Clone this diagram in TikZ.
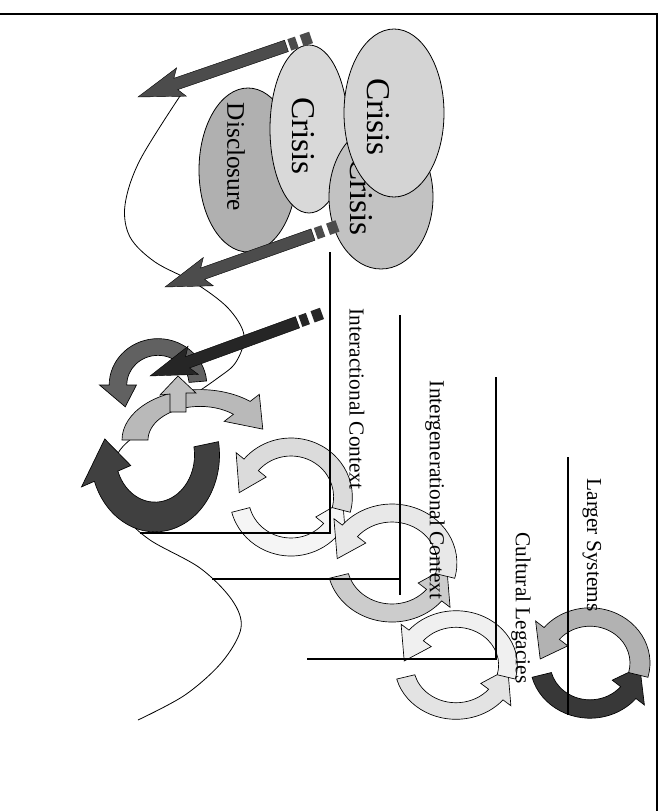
\documentclass[tikz,border=0pt]{standalone}
\usepackage{fontspec}
\setmainfont{Liberation Serif}
\usepackage{tikz}
\usetikzlibrary{shapes.geometric}
\tikzset{
  frame/.style    = {line width=1pt},
  pathline/.style = {line width=0.6pt},
  ctxline/.style  = {line width=0.8pt},
  stage/.style args = {#1/#2}{ellipse,draw,line width=0.6pt,inner sep=0pt,
                     minimum width=#1*1.5pt,minimum height=#2*1.5pt},
  stagetxt/.style = {rotate=-90,inner sep=0pt,font=\fontsize{25}{30}\selectfont},
  disctxt/.style  = {rotate=-90,inner sep=0pt,font=\fontsize{19}{23}\selectfont},
  ctxlbl/.style   = {rotate=-90,inner sep=0pt,font=\fontsize{16}{19}\selectfont},
}
% curved band arrow on an ellipse: [band] centre, rx, ry, start, end, head, fill
\newcommand{\ringarrow}[8][0.2]{%
  \pgfmathsetmacro{\rahb}{#6-#7}%
  \begin{scope}[shift={#2},xscale=#3,yscale=#4]
    \filldraw[fill=#8,draw=black,line width=0.5pt]
      ({#5}:{1+#1}) arc[start angle=#5,end angle=\rahb,radius={1+#1}]
      -- (\rahb:{1+2.1*#1}) -- ({#6}:1) -- (\rahb:{1-2.1*#1})
      -- (\rahb:{1-#1}) arc[start angle=\rahb,end angle=#5,radius={1-#1}]
      -- cycle;
  \end{scope}}
% block arrow with a striped tail: tip, angle, fill
\newcommand{\stripearrow}[3]{%
  \begin{scope}[shift={#1},rotate=#2]
    \filldraw[fill=#3,draw=black,line width=0.3pt]
      (0,0) -- (46,15) -- (40,6) -- (157,6) -- (157,-6) -- (40,-6)
      -- (46,-15) -- cycle;
    \fill[#3] (160,-6) rectangle (168,6);
    \fill[#3] (173,-6) rectangle (183,6);
  \end{scope}}

\begin{document}
\begin{tikzpicture}[x=0.75pt,y=-0.75pt]
  \useasboundingbox (0,0) rectangle (667,811);
  % frame
  \draw[frame] (0,14) -- (657,14) -- (657,811);
  % the path through the stages
  \draw[pathline] plot[smooth,tension=0.55] coordinates {(182,93) (140,160)
    (125,205) (130,237) (155,262) (195,283) (228,308) (244,335) (236,362)
    (215,380) (160,418) (120,450) (112,485) (125,516) (150,540) (200,568)
    (232,600) (241,628) (222,662) (185,695) (138,720)};
  % stages
  \node[stage=49/82,fill=gray!62] (disc) at (248,170) {};
  \node[disctxt] (disclbl) at (236,157) {Disclosure};
  \node[stage=39/84,fill=gray!30] (crisisA) at (309,129) {};
  \node[stagetxt] (crisisAlbl) at (303,136) {Crisis};
  \node[stage=52/72,fill=gray!48] (crisisC) at (381,197) {};
  \node[stagetxt] (crisisClbl) at (361,197) {Crisis};
  \node[stage=50/84,fill=gray!34] (crisisB) at (394,113) {};
  \node[stagetxt] (crisisBlbl) at (378,117) {Crisis};
  % striped arrows
  \stripearrow{(138,97)}{19}{black!70}
  \stripearrow{(165,287)}{19.5}{black!70}
  % individual cycle (dark)
  \ringarrow[0.24]{(155,455)}{52}{62}{-10}{195}{35}{black!75}
  \ringarrow[0.22]{(158,385)}{40}{38}{-5}{-215}{-35}{black!62}
  \ringarrow[0.2]{(200,440)}{65}{42}{180}{345}{35}{gray!55}
  \filldraw[fill=gray!50,line width=0.5pt] (178,376) -- (196,393) -- (186,393)
    -- (186,412) -- (170,412) -- (170,394) -- (160,395) -- cycle;
  \stripearrow{(150,376)}{20}{black!85}
  % interactional cycle
  \ringarrow[0.18]{(291,497)}{52}{50}{165}{5}{-35}{gray!8}
  \ringarrow[0.18]{(291,497)}{52}{50}{15}{-175}{-35}{gray!28}
  % intergenerational cycle
  \ringarrow[0.18]{(392,563)}{55}{50}{165}{5}{-35}{gray!40}
  \ringarrow[0.18]{(392,563)}{55}{50}{15}{-175}{-35}{gray!18}
  % cultural cycle
  \ringarrow[0.18]{(456,665)}{52}{46}{165}{5}{-35}{gray!22}
  \ringarrow[0.18]{(456,665)}{52}{46}{15}{-175}{-35}{gray!12}
  % larger systems cycle
  \ringarrow[0.2]{(590,663)}{50}{46}{165}{5}{-35}{black!78}
  \ringarrow[0.2]{(590,663)}{50}{46}{15}{-175}{-35}{gray!60}
  % leader lines
  \draw[ctxline] (330,252) -- (330,533) -- (140,533);
  \draw[ctxline] (400,315) -- (400,595);
  \draw[ctxline] (400,579) -- (212,579);
  \draw[ctxline] (496,377) -- (496,659) -- (307,659);
  \draw[ctxline] (568,457) -- (568,715);
  % context labels
  \node[ctxlbl] (interact) at (357,399) {Interactional Context};
  \node[ctxlbl] (intergen) at (435,490) {Intergenerational Context};
  \node[ctxlbl] (cultural) at (521,608) {Cultural Legacies};
  \node[ctxlbl] (larger) at (592,545) {Larger Systems};
\end{tikzpicture}
\end{document}
